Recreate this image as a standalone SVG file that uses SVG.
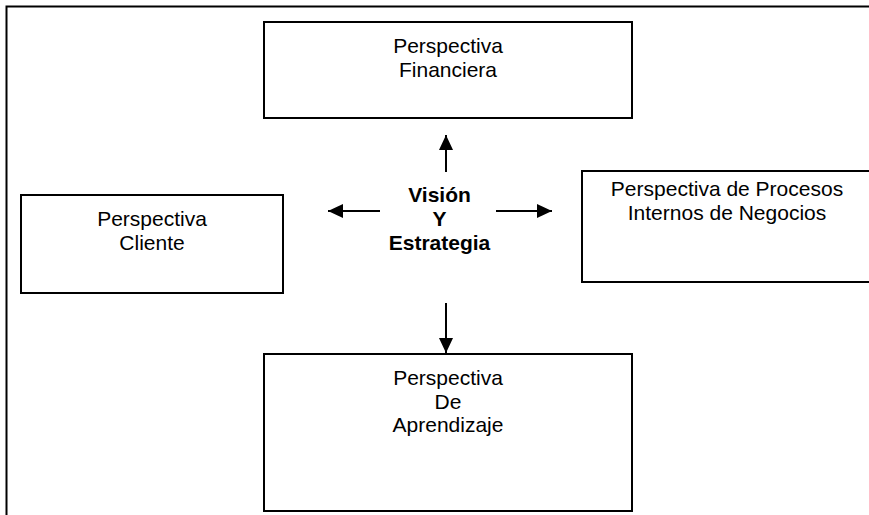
<svg xmlns="http://www.w3.org/2000/svg" width="869" height="515" viewBox="0 0 869 515">
  <style>
    .box { fill: #ffffff; stroke: #000000; stroke-width: 2; }
    .lbl { font-family: "Liberation Sans", Arial, sans-serif; font-size: 21px; fill: #000000; text-anchor: middle; }
    .bold { font-weight: bold; }
    .conn { stroke: #000000; stroke-width: 2; fill: none; marker-end: url(#arrow); }
  </style>
  <defs>
    <marker id="arrow" markerUnits="userSpaceOnUse" markerWidth="15" markerHeight="14" refX="15" refY="7" orient="auto">
      <path d="M0,0 L15,7 L0,14 Z" fill="#000000"/>
    </marker>
  </defs>
  <rect width="869" height="515" fill="#ffffff"/>
  <path id="frame" d="M6.5,515 V6.5 H869" fill="none" stroke="#000000" stroke-width="2"/>

  <g id="financiera">
    <rect class="box" x="264" y="22" width="368" height="96"/>
    <text class="lbl" x="448" y="52.5">Perspectiva</text>
    <text class="lbl" x="448" y="76.5">Financiera</text>
  </g>

  <g id="cliente">
    <rect class="box" x="21" y="195" width="262" height="98"/>
    <text class="lbl" x="152" y="226">Perspectiva</text>
    <text class="lbl" x="152" y="249.5">Cliente</text>
  </g>

  <g id="procesos">
    <rect class="box" x="582" y="171" width="300" height="111"/>
    <text class="lbl" x="727" y="196">Perspectiva de Procesos</text>
    <text class="lbl" x="727" y="220">Internos de Negocios</text>
  </g>

  <g id="aprendizaje">
    <rect class="box" x="264" y="354" width="368" height="157"/>
    <text class="lbl" x="448" y="385">Perspectiva</text>
    <text class="lbl" x="448" y="408.5">De</text>
    <text class="lbl" x="448" y="432">Aprendizaje</text>
  </g>

  <g id="vision">
    <text class="lbl bold" x="439.5" y="202">Visión</text>
    <text class="lbl bold" x="439.5" y="226">Y</text>
    <text class="lbl bold" x="439.5" y="250">Estrategia</text>
  </g>

  <g id="connectors">
    <line class="conn" x1="446" y1="172" x2="446" y2="135"/>
    <line class="conn" x1="446" y1="303" x2="446" y2="353"/>
    <line class="conn" x1="380" y1="211" x2="328" y2="211"/>
    <line class="conn" x1="496" y1="211" x2="552" y2="211"/>
  </g>
</svg>
